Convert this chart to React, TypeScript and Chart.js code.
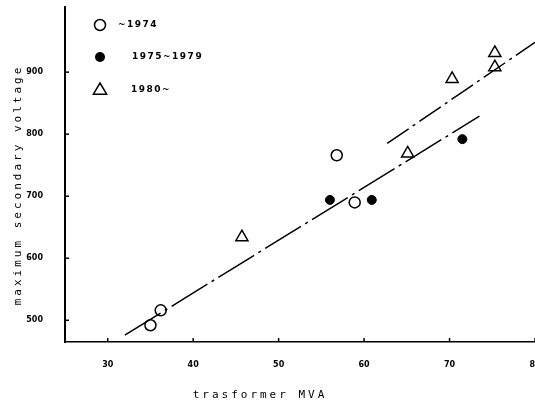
import React, { useEffect, useRef } from "react";
import { Chart, registerables } from "chart.js";

Chart.register(...registerables);

const xTicks = [30, 40, 50, 60, 70, 80];
const yTicks = [500, 600, 700, 800, 900];

const legendLabels = ["~1974", "1975~1979", "1980~"];

const openX = [35.0, 36.2, 56.8, 58.9];
const openY = [492, 516, 766, 690];

const filledX = [56.0, 60.9, 71.5];
const filledY = [694, 694, 792];

const triX = [45.7, 65.1, 70.3, 75.3, 75.3];
const triY = [634, 769, 889, 931, 908];

const lowerLineX = [32.0, 73.5];
const lowerLineY = [476, 829];
const upperLineX = [62.7, 80.0];
const upperLineY = [785, 948];

const xTitle = "trasformer MVA";
const yTitle = "maximum secondary voltage";

const pts = (xs: number[], ys: number[]) => xs.map((x, i) => ({ x, y: ys[i] }));

const decorPlugin = {
  id: "decor",
  afterDraw(chart: any) {
    const { ctx, chartArea, scales } = chart;
    const xs = scales.x;
    const ys = scales.y;
    ctx.save();
    ctx.strokeStyle = "#000";
    ctx.fillStyle = "#000";
    // inward tick marks
    ctx.lineWidth = 1.5;
    xTicks.forEach((v) => {
      const px = xs.getPixelForValue(v);
      ctx.beginPath();
      ctx.moveTo(px, chartArea.bottom);
      ctx.lineTo(px, chartArea.bottom - 4);
      ctx.stroke();
    });
    yTicks.forEach((v) => {
      const py = ys.getPixelForValue(v);
      ctx.beginPath();
      ctx.moveTo(chartArea.left, py);
      ctx.lineTo(chartArea.left + 4, py);
      ctx.stroke();
    });
    // titles
    ctx.font = "11px 'DejaVu Sans Mono'";
    (ctx as any).letterSpacing = "3px";
    ctx.textAlign = "center";
    ctx.textBaseline = "middle";
    ctx.fillText(xTitle, 260, 395);
    ctx.save();
    ctx.translate(18, 185);
    ctx.rotate(-Math.PI / 2);
    ctx.fillText(yTitle, 0, 0);
    ctx.restore();
    // legend
    const lx = 100;
    const rows = [25, 57, 90];
    ctx.lineWidth = 1.5;
    ctx.beginPath();
    ctx.arc(lx, rows[0], 5.5, 0, Math.PI * 2);
    ctx.stroke();
    ctx.beginPath();
    ctx.arc(lx, rows[1], 5, 0, Math.PI * 2);
    ctx.fill();
    const r = 7;
    ctx.beginPath();
    ctx.moveTo(lx, rows[2] - r);
    ctx.lineTo(lx + r * 0.95, rows[2] + r * 0.6);
    ctx.lineTo(lx - r * 0.95, rows[2] + r * 0.6);
    ctx.closePath();
    ctx.stroke();
    ctx.font = "bold 9px 'DejaVu Sans'";
    (ctx as any).letterSpacing = "1.5px";
    ctx.textAlign = "left";
    ctx.fillText(legendLabels[0], 118, rows[0]);
    ctx.fillText(legendLabels[1], 132, rows[1]);
    ctx.fillText(legendLabels[2], 131, rows[2]);
    (ctx as any).letterSpacing = "0px";
    ctx.restore();
  },
};

export default function App() {
  const ref = useRef<HTMLCanvasElement | null>(null);
  useEffect(() => {
    if (!ref.current) return;
    const chart = new Chart(ref.current, {
      type: "scatter",
      data: {
        datasets: [
          {
            type: "line",
            label: "lower",
            data: pts(lowerLineX, lowerLineY),
            borderColor: "#000",
            borderWidth: 1.5,
            borderDash: [42, 5, 3, 5],
            pointRadius: 0,
            showLine: true,
            fill: false,
          } as any,
          {
            type: "line",
            label: "upper",
            data: pts(upperLineX, upperLineY),
            borderColor: "#000",
            borderWidth: 1.5,
            borderDash: [26, 5, 3, 5],
            pointRadius: 0,
            showLine: true,
            fill: false,
          } as any,
          {
            label: legendLabels[0],
            data: pts(openX, openY),
            pointStyle: "circle",
            pointRadius: 5.5,
            backgroundColor: "#fff",
            borderColor: "#000",
            borderWidth: 1.5,
          },
          {
            label: legendLabels[1],
            data: pts(filledX, filledY),
            pointStyle: "circle",
            pointRadius: 4.5,
            backgroundColor: "#000",
            borderColor: "#000",
            borderWidth: 1,
          },
          {
            label: legendLabels[2],
            data: pts(triX, triY),
            pointStyle: "triangle",
            pointRadius: 7,
            backgroundColor: "#fff",
            borderColor: "#000",
            borderWidth: 1.5,
          },
        ],
      },
      options: {
        animation: false,
        responsive: true,
        maintainAspectRatio: false,
        layout: { autoPadding: false, padding: { top: 7, right: 0, left: 0, bottom: 0 } },
        plugins: { legend: { display: false }, tooltip: { enabled: false } },
        scales: {
          x: {
            type: "linear",
            min: 25,
            max: 80,
            afterBuildTicks: (s: any) => {
              s.ticks = xTicks.map((v) => ({ value: v }));
            },
            afterFit: (s: any) => {
              s.height = 67;
              s.paddingRight = 0;
              s.paddingLeft = 0;
            },
            grid: { display: false },
            border: { display: true, color: "#000", width: 1.5 },
            ticks: {
              padding: 10,
              color: "#000",
              font: { family: "'DejaVu Sans'", size: 8, weight: "bold" },
              maxRotation: 0,
            },
          },
          y: {
            type: "linear",
            min: 465,
            max: 1005,
            afterBuildTicks: (s: any) => {
              s.ticks = yTicks.map((v) => ({ value: v }));
            },
            afterFit: (s: any) => {
              s.width = 65;
              s.paddingTop = 0;
              s.paddingBottom = 0;
            },
            grid: { display: false },
            border: { display: true, color: "#000", width: 2 },
            ticks: {
              padding: 14,
              color: "#000",
              font: { family: "'DejaVu Sans'", size: 8, weight: "bold" },
            },
          },
        },
      },
      plugins: [decorPlugin],
    } as any);
    return () => chart.destroy();
  }, []);
  return (
    <div style={{ position: "absolute", left: 0, top: 0, width: 535, height: 409, background: "#fff" }}>
      <canvas ref={ref} />
    </div>
  );
}
